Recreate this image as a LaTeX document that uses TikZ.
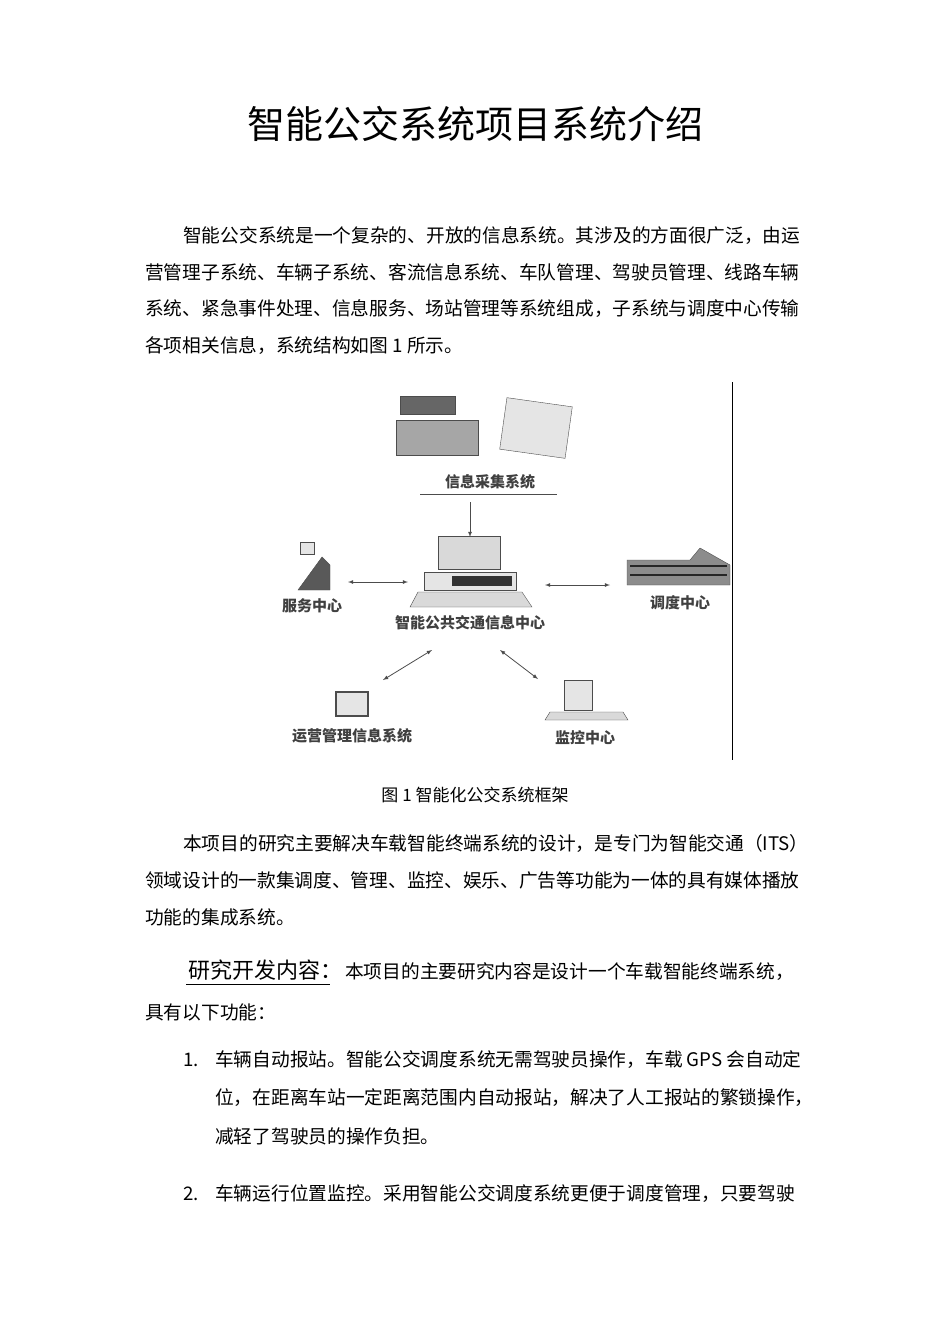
\documentclass[tikz,border=0pt]{standalone}
\usepackage{fontspec}
\newfontfamily\cjk{Noto Sans CJK SC}
\begin{document}
\begin{tikzpicture}[x=1pt,y=-1pt,
 body/.style={anchor=west,inner sep=0,font=\cjk\fontsize{18.7}{21}\selectfont},
 lab/.style={inner sep=0,font=\cjk\bfseries\fontsize{15}{17}\selectfont,text=black!75},
 arr/.style={<->,>=latex,thick,black!70},
 icon/.style={draw=black!70,fill=black!25}]
\useasboundingbox (0,0) rectangle (950,1344);
\node[inner sep=0,font=\cjk\fontsize{38}{42}\selectfont] (title) at (475,124) {智能公交系统项目系统介绍};
\node[body] (p1) at (183,236) {智能公交系统是一个复杂的、开放的信息系统。其涉及的方面很广泛，由运};
\node[body] (p2) at (145,272) {营管理子系统、车辆子系统、客流信息系统、车队管理、驾驶员管理、线路车辆};
\node[body] (p3) at (145,309) {系统、紧急事件处理、信息服务、场站管理等系统组成，子系统与调度中心传输};
\node[body] (p4) at (145,346) {各项相关信息，系统结构如图 1 所示。};
% figure
\draw[thick] (732,382) coordinate (vt) -- (732,760) coordinate (vb);
\node[icon,fill=black!60,minimum width=55,minimum height=18,inner sep=0] (cam) at (428,405) {};
\node[icon,fill=black!35,minimum width=82,minimum height=35,inner sep=0] (ph) at (437,438) {};
\node[icon,fill=black!10,rotate=-8,minimum width=66,minimum height=52,inner sep=0] (doc) at (536,428) {};
\node[lab] (cj) at (490,482) {信息采集系统};
\draw[black!70] (420,494) coordinate (ul) -- (557,494) coordinate (ur);
\node[icon,fill=black!15,minimum width=62,minimum height=33,inner sep=0] (mon) at (469,553) {};
\node[icon,fill=black!10,minimum width=92,minimum height=18,inner sep=0] (box) at (470,581) {};
\fill[black!80] (452,576) rectangle (512,586);
\draw[icon,fill=black!15] (410,607) -- (418,592) -- (522,592) -- (532,607) -- cycle;
\node[lab] (zx) at (470,623) {智能公共交通信息中心};
\coordinate (ctop) at (470,537);
\draw[->,>=latex,black!70,thick] (470,502) -- (ctop);
% service
\node[icon,fill=black!10,minimum width=14,minimum height=12,inner sep=0] (sign) at (307,548) {};
\draw[icon,fill=black!65] (298,590) -- (322,557) -- (330,565) -- (330,590) -- cycle;
\node[lab] (fw) at (312,606) {服务中心};
\draw[arr] (348,582) -- (408,582);
% dispatch
\draw[icon,fill=black!45] (627,585) -- (627,560) -- (690,560) -- (700,548) -- (730,565) -- (730,585) -- cycle;
\foreach \yy in {566,575} \draw[black!85,line width=1.5] (630,\yy) -- (727,\yy);
\node[lab] (dd) at (680,603) {调度中心};
\draw[arr] (545,585) -- (610,585);
% operations
\node[icon,fill=black!10,line width=2,minimum width=32,minimum height=24,inner sep=0] (shop) at (352,704) {};
\node[lab] (yy) at (352,736) {运营管理信息系统};
\draw[arr] (383,680) -- (432,650);
% monitor
\node[icon,fill=black!10,minimum width=28,minimum height=30,inner sep=0] (mm) at (578,695) {};
\draw[icon,fill=black!15] (545,720) -- (550,712) -- (623,712) -- (628,720) -- cycle;
\node[lab] (jk) at (585,738) {监控中心};
\draw[arr] (500,650) -- (538,679);
\node[inner sep=0,font=\cjk\fontsize{17}{20}\selectfont] (cap) at (475,795) {图 1 智能化公交系统框架};
\node[body] (q1) at (183,843) {本项目的研究主要解决车载智能终端系统的设计，是专门为智能交通（ITS）};
\node[body] (q2) at (145,880) {领域设计的一款集调度、管理、监控、娱乐、广告等功能为一体的具有媒体播放};
\node[body] (q3) at (145,917) {功能的集成系统。};
\node[anchor=west,inner sep=0,font=\cjk\fontsize{22}{24}\selectfont] (h) at (188,970) {研究开发内容：};
\draw (186,984) -- (330,984);
\node[body] (h2) at (345,972) {本项目的主要研究内容是设计一个车载智能终端系统，};
\node[body] (h3) at (145,1012) {具有以下功能：};
\node[body] (n1) at (183,1060) {1.};
\node[body] (l1) at (215,1060) {车辆自动报站。智能公交调度系统无需驾驶员操作，车载 GPS 会自动定};
\node[body] (l2) at (215,1098) {位，在距离车站一定距离范围内自动报站，解决了人工报站的繁锁操作，};
\node[body] (l3) at (215,1136) {减轻了驾驶员的操作负担。};
\node[body] (n2) at (183,1194) {2.};
\node[body] (l4) at (215,1194) {车辆运行位置监控。采用智能公交调度系统更便于调度管理，只要驾驶};
\end{tikzpicture}
\end{document}
